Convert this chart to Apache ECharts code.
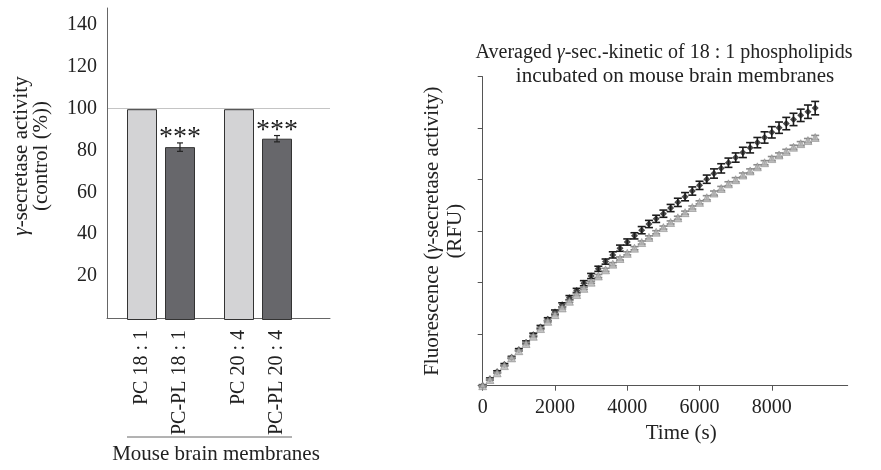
<!DOCTYPE html>
<html><head><meta charset="utf-8">
<script src="https://cdn.jsdelivr.net/npm/echarts@6/dist/echarts.min.js"></script>
<style>html,body{margin:0;padding:0;background:#fff}#c{width:881px;height:470px}</style>
</head><body><div id="c"></div>
<script>
// ---- Left panel data ----
const categories18 = ['PC 18 : 1', 'PC-PL 18 : 1'];
const categories20 = ['PC 20 : 4', 'PC-PL 20 : 4'];
const activity18 = [100, 82];
const activityErr18 = [0, 2];
const activity20 = [100, 86];
const activityErr20 = [0, 1.5];
const significance18 = ['', '***'];
const significance20 = ['', '***'];
const leftTicks = [20, 40, 60, 80, 100, 120, 140];
const groupLabel = 'Mouse brain membranes';

// ---- Right panel data ----
const timeSec = [0,200,400,600,800,1000,1200,1400,1600,1800,2000,2200,2400,2600,2800,3000,3200,3400,3600,3800,4000,4200,4400,4600,4800,5000,5200,5400,5600,5800,6000,6200,6400,6600,6800,7000,7200,7400,7600,7800,8000,8200,8400,8600,8800,9000,9200];
const fluoPC = [0,0.13,0.27,0.41,0.55,0.70,0.84,0.99,1.14,1.29,1.43,1.57,1.71,1.85,1.99,2.13,2.27,2.41,2.54,2.67,2.79,2.91,3.02,3.14,3.24,3.34,3.45,3.56,3.67,3.78,3.89,4.01,4.12,4.22,4.33,4.43,4.53,4.62,4.72,4.82,4.92,5.01,5.09,5.17,5.25,5.32,5.39];
const fluoPCErr = [0.02,0.02,0.02,0.02,0.02,0.02,0.03,0.03,0.03,0.03,0.04,0.04,0.04,0.04,0.05,0.05,0.05,0.05,0.06,0.06,0.06,0.06,0.07,0.07,0.07,0.07,0.07,0.08,0.08,0.08,0.08,0.08,0.09,0.09,0.09,0.09,0.10,0.10,0.10,0.11,0.11,0.11,0.12,0.12,0.12,0.13,0.13];
const fluoPCPL = [0,0.12,0.25,0.39,0.54,0.68,0.82,0.96,1.11,1.25,1.38,1.51,1.64,1.77,1.89,2.01,2.13,2.25,2.36,2.47,2.57,2.67,2.78,2.88,2.98,3.07,3.17,3.26,3.36,3.46,3.56,3.65,3.74,3.83,3.92,4.00,4.09,4.17,4.25,4.33,4.41,4.48,4.55,4.63,4.70,4.76,4.82];
const fluoPCPLErr = [0.01,0.01,0.01,0.01,0.01,0.01,0.02,0.02,0.02,0.02,0.02,0.02,0.02,0.02,0.02,0.02,0.03,0.03,0.03,0.03,0.03,0.03,0.03,0.03,0.03,0.03,0.03,0.03,0.03,0.03,0.03,0.04,0.04,0.04,0.04,0.04,0.04,0.04,0.04,0.04,0.04,0.04,0.04,0.04,0.04,0.04,0.04];
const timeTicks = [0, 2000, 4000, 6000, 8000];

const FONT = 'Liberation Serif';
const TXT = '#222';
const barColors = ['#d3d3d5', '#67676b'];

function barSeries(values, xi, yi) {
  return {
    type: 'bar', xAxisIndex: xi, yAxisIndex: yi, barWidth: 30, z: 3,
    data: values.map((v, i) => ({ value: v, itemStyle: { color: barColors[i], borderColor: '#333', borderWidth: 1 } }))
  };
}
function barErrSeries(values, errs, sigs, xi, yi) {
  return {
    type: 'custom', xAxisIndex: xi, yAxisIndex: yi, z: 6,
    data: values.map((v, i) => [i, v, errs[i]]),
    renderItem(params, api) {
      const i = api.value(0), v = api.value(1), e = api.value(2);
      const children = [];
      if (e > 0) {
        const t = api.coord([i, v + e]), b = api.coord([i, v - e]);
        const ls = { stroke: '#222', lineWidth: 1.2 };
        children.push({ type: 'line', shape: { x1: t[0], y1: t[1], x2: b[0], y2: b[1] }, style: ls });
        children.push({ type: 'line', shape: { x1: t[0] - 3, y1: t[1], x2: t[0] + 3, y2: t[1] }, style: ls });
        children.push({ type: 'line', shape: { x1: b[0] - 3, y1: b[1], x2: b[0] + 3, y2: b[1] }, style: ls });
      }
      const s = sigs[params.dataIndex];
      if (s) {
        const t = api.coord([i, v + e]);
        children.push({ type: 'text', style: { text: s, x: t[0], y: t[1] - 19, align: 'center', verticalAlign: 'top', font: '28px "' + FONT + '"', fill: TXT } });
      }
      return { type: 'group', children };
    }
  };
}
function kinErrSeries(means, errs, color, z) {
  return {
    type: 'custom', xAxisIndex: 3, yAxisIndex: 4, z,
    data: timeSec.map((t, i) => [t, means[i], errs[i]]),
    renderItem(params, api) {
      const x = api.value(0), v = api.value(1), e = api.value(2);
      const t = api.coord([x, v + e]), b = api.coord([x, v - e]);
      const ls = { stroke: color, lineWidth: 1.6 };
      return { type: 'group', children: [
        { type: 'line', shape: { x1: t[0], y1: t[1], x2: b[0], y2: b[1] }, style: ls },
        { type: 'line', shape: { x1: t[0] - 4, y1: t[1], x2: t[0] + 4, y2: t[1] }, style: ls },
        { type: 'line', shape: { x1: b[0] - 4, y1: b[1], x2: b[0] + 4, y2: b[1] }, style: ls }
      ] };
    }
  };
}

const chart = echarts.init(document.getElementById('c'), null, { renderer: 'canvas' });
const hiddenY = { type: 'value', min: 0, max: 148, show: false };
const catAxis = (gi, cats) => ({
  type: 'category', gridIndex: gi, data: cats,
  axisLine: { show: false }, axisTick: { show: false },
  axisLabel: { rotate: 90, margin: 10, fontFamily: FONT, fontSize: 20, color: TXT }
});

chart.setOption({
  animation: false,
  textStyle: { fontFamily: FONT },
  title: [
    { text: 'Averaged {g|γ}-sec.-kinetic of 18 : 1 phospholipids', left: 664, top: 43, textAlign: 'center', padding: 0,
      textStyle: { fontFamily: FONT, fontSize: 20, fontWeight: 'normal', color: TXT, rich: { g: { fontFamily: FONT, fontSize: 20, fontStyle: 'italic', color: TXT } } } },
    { text: 'incubated on mouse brain membranes', left: 675, top: 66, textAlign: 'center', padding: 0,
      textStyle: { fontFamily: FONT, fontSize: 21, fontWeight: 'normal', color: TXT } }
  ],
  grid: [
    { left: 107, top: 8, width: 223, bottom: 150 },
    { left: 123, top: 8, width: 76, bottom: 150 },
    { left: 220, top: 8, width: 76, bottom: 150 },
    { left: 482.7, top: 76.7, right: 33.3, bottom: 84.3 }
  ],
  xAxis: [
    { type: 'category', gridIndex: 0, data: [''], axisTick: { show: false }, axisLabel: { show: false },
      axisLine: { lineStyle: { color: '#666', width: 1 } },
      name: groupLabel, nameLocation: 'middle', nameGap: 126,
      nameTextStyle: { fontFamily: FONT, fontSize: 21, color: TXT, padding: [0, 5, 0, 0] } },
    catAxis(1, categories18),
    catAxis(2, categories20),
    { type: 'value', gridIndex: 3, min: 0, max: 10100, interval: 2000,
      axisLine: { lineStyle: { color: '#555', width: 1 } },
      axisTick: { show: true, length: 5, customValues: timeTicks, lineStyle: { color: '#555' } },
      axisLabel: { customValues: timeTicks, formatter: v => String(v), margin: 12, fontFamily: FONT, fontSize: 20, color: TXT },
      splitLine: { show: false },
      name: 'Time (s)', nameLocation: 'middle', nameGap: 36,
      nameTextStyle: { fontFamily: FONT, fontSize: 21, color: TXT, padding: [0, 0, 0, 32] } }
  ],
  yAxis: [
    { type: 'value', gridIndex: 0, min: 0, max: 148, interval: 20,
      axisLine: { show: true, lineStyle: { color: '#666', width: 1 } },
      axisTick: { show: false },
      axisLabel: { customValues: leftTicks, margin: 10, fontFamily: FONT, fontSize: 20, color: TXT },
      splitLine: { show: false },
      name: '{g|γ}-secretase activity\n(control (%))', nameLocation: 'middle', nameGap: 56,
      nameTextStyle: { fontFamily: FONT, fontSize: 21, lineHeight: 20, color: TXT, padding: [0, 0, 0, 14],
        rich: { g: { fontFamily: FONT, fontSize: 21, lineHeight: 20, fontStyle: 'italic', color: TXT } } } },
    { type: 'value', gridIndex: 0, position: 'left', min: 0, max: 148, interval: 100,
      axisLine: { show: false }, axisTick: { show: false }, axisLabel: { show: false },
      splitLine: { show: true, showMinLine: false, showMaxLine: false, lineStyle: { color: '#c4c4c4', width: 1 } } },
    Object.assign({ gridIndex: 1 }, hiddenY),
    Object.assign({ gridIndex: 2 }, hiddenY),
    { type: 'value', gridIndex: 3, min: 0, max: 6, interval: 1,
      axisLine: { show: true, lineStyle: { color: '#555', width: 1 } },
      axisTick: { show: true, length: 5, lineStyle: { color: '#555' } },
      axisLabel: { show: false }, splitLine: { show: false },
      name: 'Fluorescence ({g|γ}-secretase activity)\n(RFU)', nameLocation: 'middle', nameGap: 16,
      nameTextStyle: { fontFamily: FONT, fontSize: 21, lineHeight: 23, color: TXT,
        rich: { g: { fontFamily: FONT, fontSize: 21, lineHeight: 23, fontStyle: 'italic', color: TXT } } } }
  ],
  graphic: [
    { type: 'line', shape: { x1: 127, y1: 437, x2: 292, y2: 437 }, style: { stroke: '#666', lineWidth: 1 } }
  ],
  series: [
    barSeries(activity18, 1, 2),
    barSeries(activity20, 2, 3),
    barErrSeries(activity18, activityErr18, significance18, 1, 2),
    barErrSeries(activity20, activityErr20, significance20, 2, 3),
    kinErrSeries(fluoPC, fluoPCErr, '#1c1c1c', 2),
    { type: 'scatter', xAxisIndex: 3, yAxisIndex: 4, z: 3, symbol: 'diamond', symbolSize: 7,
      itemStyle: { color: '#1c1c1c' }, data: timeSec.map((t, i) => [t, fluoPC[i]]) },
    kinErrSeries(fluoPCPL, fluoPCPLErr, '#8c8c8c', 4),
    { type: 'scatter', xAxisIndex: 3, yAxisIndex: 4, z: 5, symbol: 'triangle', symbolSize: 8,
      itemStyle: { color: '#b4b4b4', borderColor: '#777', borderWidth: 0.6 }, data: timeSec.map((t, i) => [t, fluoPCPL[i]]) }
  ]
});
</script></body></html>
